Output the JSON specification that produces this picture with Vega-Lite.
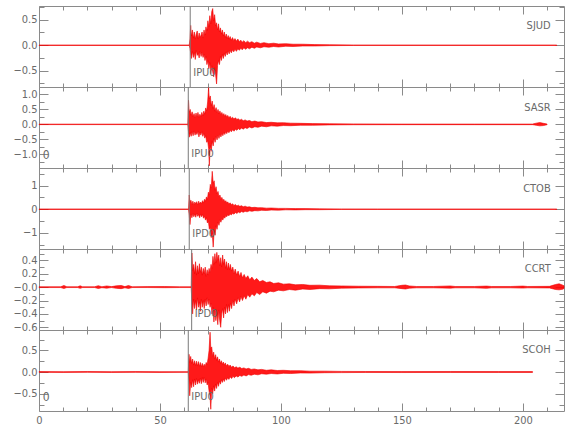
{
  "$schema": "https://vega.github.io/schema/vega-lite/v6.json",
  "padding": {"left": 5, "top": 0, "right": 5, "bottom": 5},
  "spacing": 0,
  "bounds": "flush",
  "config": {
    "view": {"stroke": "#8a8a8a", "strokeWidth": 1},
    "axis": {"domain": false, "grid": false, "labelFont": "DejaVu Sans Condensed, DejaVu Sans, sans-serif", "labelFontSize": 11, "labelColor": "#6a6a6a", "tickColor": "#8a8a8a", "tickWidth": 1, "title": null, "labelOverlap": false, "labelFlush": false, "labelBound": false},
    "text": {"font": "DejaVu Sans Condensed, DejaVu Sans, sans-serif", "color": "#6a6a6a"}
  },
  "datasets": {
    "d1": [
      {"t":0,"h":0.004,"l":-0.004},{"t":62.1,"h":0.004,"l":-0.004},
      {"t":62.4,"h":0.12,"l":-0.06},{"t":62.7,"h":0.39,"l":-0.15},{"t":63.0,"h":0.18,"l":-0.26},{"t":63.4,"h":0.30,"l":-0.12},
      {"t":63.8,"h":0.14,"l":-0.24},{"t":64.2,"h":0.26,"l":-0.14},{"t":64.6,"h":0.12,"l":-0.28},{"t":65.0,"h":0.22,"l":-0.10},
      {"t":65.4,"h":0.28,"l":-0.20},{"t":65.8,"h":0.12,"l":-0.16},{"t":66.2,"h":0.24,"l":-0.25},{"t":66.6,"h":0.15,"l":-0.12},
      {"t":67.0,"h":0.20,"l":-0.22},{"t":67.4,"h":0.26,"l":-0.14},{"t":67.8,"h":0.14,"l":-0.24},{"t":68.2,"h":0.30,"l":-0.18},
      {"t":68.6,"h":0.20,"l":-0.30},{"t":69.0,"h":0.36,"l":-0.22},{"t":69.4,"h":0.28,"l":-0.38},{"t":69.8,"h":0.48,"l":-0.30},
      {"t":70.2,"h":0.36,"l":-0.46},{"t":70.6,"h":0.58,"l":-0.34},{"t":71.0,"h":0.42,"l":-0.56},{"t":71.4,"h":0.66,"l":-0.40},
      {"t":71.8,"h":0.72,"l":-0.52},{"t":72.2,"h":0.48,"l":-0.62},{"t":72.6,"h":0.60,"l":-0.44},{"t":73.0,"h":0.38,"l":-0.58},
      {"t":73.4,"h":0.44,"l":-0.76},{"t":73.8,"h":0.30,"l":-0.40},{"t":74.2,"h":0.42,"l":-0.30},{"t":74.6,"h":0.26,"l":-0.38},
      {"t":75.0,"h":0.34,"l":-0.22},{"t":75.4,"h":0.22,"l":-0.30},{"t":75.8,"h":0.30,"l":-0.18},{"t":76.2,"h":0.18,"l":-0.26},
      {"t":76.6,"h":0.26,"l":-0.16},{"t":77.0,"h":0.15,"l":-0.22},{"t":77.4,"h":0.22,"l":-0.13},{"t":77.8,"h":0.13,"l":-0.19},
      {"t":78.2,"h":0.19,"l":-0.11},{"t":78.6,"h":0.12,"l":-0.17},{"t":79.0,"h":0.17,"l":-0.10},{"t":79.5,"h":0.10,"l":-0.15},
      {"t":80.0,"h":0.15,"l":-0.09},{"t":80.5,"h":0.09,"l":-0.13},{"t":81.0,"h":0.13,"l":-0.08},{"t":81.6,"h":0.08,"l":-0.12},
      {"t":82.2,"h":0.12,"l":-0.07},{"t":82.8,"h":0.07,"l":-0.10},{"t":83.4,"h":0.10,"l":-0.06},{"t":84.0,"h":0.06,"l":-0.09},
      {"t":84.7,"h":0.09,"l":-0.05},{"t":85.4,"h":0.05,"l":-0.08},{"t":86.2,"h":0.08,"l":-0.05},{"t":87.0,"h":0.05,"l":-0.07},
      {"t":88.0,"h":0.07,"l":-0.04},{"t":89.0,"h":0.04,"l":-0.06},{"t":90.0,"h":0.06,"l":-0.035},{"t":91.5,"h":0.035,"l":-0.05},
      {"t":93.0,"h":0.05,"l":-0.03},{"t":95.0,"h":0.03,"l":-0.04},{"t":97.0,"h":0.04,"l":-0.025},{"t":99.0,"h":0.025,"l":-0.035},
      {"t":102,"h":0.03,"l":-0.02},{"t":105,"h":0.02,"l":-0.025},{"t":109,"h":0.02,"l":-0.015},{"t":114,"h":0.012,"l":-0.015},
      {"t":120,"h":0.01,"l":-0.008},{"t":130,"h":0.005,"l":-0.005},{"t":214,"h":0.004,"l":-0.004}
    ],
    "d2": [
      {"t":0,"h":0.008,"l":-0.008},{"t":61.5,"h":0.008,"l":-0.008},
      {"t":61.8,"h":0.81,"l":-0.25},{"t":62.1,"h":0.40,"l":-0.43},{"t":62.5,"h":0.50,"l":-0.28},{"t":62.9,"h":0.30,"l":-0.40},
      {"t":63.3,"h":0.42,"l":-0.24},{"t":63.7,"h":0.26,"l":-0.38},{"t":64.1,"h":0.36,"l":-0.22},{"t":64.5,"h":0.22,"l":-0.36},
      {"t":64.9,"h":0.38,"l":-0.26},{"t":65.3,"h":0.25,"l":-0.34},{"t":65.7,"h":0.40,"l":-0.22},{"t":66.1,"h":0.24,"l":-0.42},
      {"t":66.5,"h":0.34,"l":-0.26},{"t":66.9,"h":0.26,"l":-0.36},{"t":67.3,"h":0.40,"l":-0.24},{"t":67.7,"h":0.28,"l":-0.40},
      {"t":68.1,"h":0.44,"l":-0.30},{"t":68.5,"h":0.34,"l":-0.46},{"t":68.9,"h":0.55,"l":-0.38},{"t":69.3,"h":0.45,"l":-0.60},
      {"t":69.7,"h":0.75,"l":-0.55},{"t":70.1,"h":1.23,"l":-0.80},{"t":70.4,"h":0.85,"l":-1.39},{"t":70.8,"h":0.95,"l":-0.70},
      {"t":71.2,"h":0.62,"l":-0.90},{"t":71.6,"h":0.78,"l":-0.56},{"t":72.0,"h":0.52,"l":-0.72},{"t":72.4,"h":0.66,"l":-0.46},
      {"t":72.8,"h":0.44,"l":-0.60},{"t":73.2,"h":0.56,"l":-0.40},{"t":73.6,"h":0.40,"l":-0.52},{"t":74.0,"h":0.50,"l":-0.36},
      {"t":74.4,"h":0.36,"l":-0.47},{"t":74.8,"h":0.45,"l":-0.32},{"t":75.2,"h":0.32,"l":-0.42},{"t":75.6,"h":0.40,"l":-0.29},
      {"t":76.0,"h":0.29,"l":-0.38},{"t":76.4,"h":0.36,"l":-0.26},{"t":76.8,"h":0.26,"l":-0.34},{"t":77.2,"h":0.33,"l":-0.24},
      {"t":77.6,"h":0.24,"l":-0.31},{"t":78.0,"h":0.30,"l":-0.22},{"t":78.5,"h":0.22,"l":-0.28},{"t":79.0,"h":0.27,"l":-0.20},
      {"t":79.5,"h":0.20,"l":-0.25},{"t":80.0,"h":0.24,"l":-0.18},{"t":80.6,"h":0.18,"l":-0.23},{"t":81.2,"h":0.22,"l":-0.16},
      {"t":81.8,"h":0.16,"l":-0.20},{"t":82.4,"h":0.19,"l":-0.14},{"t":83.0,"h":0.14,"l":-0.18},{"t":83.7,"h":0.17,"l":-0.12},
      {"t":84.4,"h":0.12,"l":-0.16},{"t":85.2,"h":0.15,"l":-0.11},{"t":86.0,"h":0.11,"l":-0.14},{"t":87.0,"h":0.13,"l":-0.09},
      {"t":88.0,"h":0.09,"l":-0.12},{"t":89.2,"h":0.11,"l":-0.08},{"t":90.5,"h":0.08,"l":-0.10},{"t":92.0,"h":0.09,"l":-0.06},
      {"t":94.0,"h":0.06,"l":-0.08},{"t":96.0,"h":0.07,"l":-0.05},{"t":98.5,"h":0.05,"l":-0.06},{"t":101,"h":0.055,"l":-0.04},
      {"t":104,"h":0.04,"l":-0.045},{"t":108,"h":0.035,"l":-0.03},{"t":113,"h":0.025,"l":-0.03},{"t":120,"h":0.02,"l":-0.018},
      {"t":130,"h":0.015,"l":-0.012},{"t":150,"h":0.01,"l":-0.01},{"t":180,"h":0.01,"l":-0.01},{"t":204,"h":0.01,"l":-0.01},
      {"t":205.5,"h":0.04,"l":-0.03},{"t":207,"h":0.06,"l":-0.05},{"t":208.5,"h":0.035,"l":-0.04},{"t":210,"h":0.01,"l":-0.01}
    ],
    "d3": [
      {"t":0,"h":0.01,"l":-0.01},{"t":61.8,"h":0.01,"l":-0.01},
      {"t":62.1,"h":0.60,"l":-0.25},{"t":62.4,"h":0.30,"l":-0.65},{"t":62.8,"h":0.38,"l":-0.20},{"t":63.2,"h":0.20,"l":-0.36},
      {"t":63.6,"h":0.34,"l":-0.18},{"t":64.0,"h":0.18,"l":-0.32},{"t":64.4,"h":0.30,"l":-0.20},{"t":64.8,"h":0.22,"l":-0.34},
      {"t":65.2,"h":0.32,"l":-0.16},{"t":65.6,"h":0.18,"l":-0.30},{"t":66.0,"h":0.34,"l":-0.22},{"t":66.4,"h":0.22,"l":-0.36},
      {"t":66.8,"h":0.30,"l":-0.20},{"t":67.2,"h":0.24,"l":-0.32},{"t":67.6,"h":0.36,"l":-0.22},{"t":68.0,"h":0.26,"l":-0.38},
      {"t":68.4,"h":0.42,"l":-0.30},{"t":68.8,"h":0.34,"l":-0.46},{"t":69.2,"h":0.52,"l":-0.36},{"t":69.6,"h":0.42,"l":-0.58},
      {"t":70.0,"h":0.72,"l":-0.50},{"t":70.4,"h":0.62,"l":-0.85},{"t":70.8,"h":1.05,"l":-0.75},{"t":71.2,"h":0.90,"l":-1.20},
      {"t":71.6,"h":1.60,"l":-1.00},{"t":72.0,"h":1.10,"l":-1.60},{"t":72.4,"h":1.20,"l":-0.90},{"t":72.8,"h":0.80,"l":-1.10},
      {"t":73.2,"h":0.95,"l":-0.70},{"t":73.6,"h":0.65,"l":-0.85},{"t":74.0,"h":0.75,"l":-0.55},{"t":74.4,"h":0.52,"l":-0.68},
      {"t":74.8,"h":0.60,"l":-0.45},{"t":75.2,"h":0.42,"l":-0.55},{"t":75.6,"h":0.50,"l":-0.38},{"t":76.0,"h":0.36,"l":-0.46},
      {"t":76.4,"h":0.42,"l":-0.32},{"t":76.8,"h":0.30,"l":-0.38},{"t":77.2,"h":0.36,"l":-0.27},{"t":77.6,"h":0.26,"l":-0.32},
      {"t":78.0,"h":0.31,"l":-0.23},{"t":78.5,"h":0.22,"l":-0.28},{"t":79.0,"h":0.27,"l":-0.20},{"t":79.5,"h":0.19,"l":-0.24},
      {"t":80.0,"h":0.23,"l":-0.17},{"t":80.6,"h":0.16,"l":-0.21},{"t":81.2,"h":0.20,"l":-0.14},{"t":81.8,"h":0.14,"l":-0.18},
      {"t":82.4,"h":0.17,"l":-0.12},{"t":83.0,"h":0.12,"l":-0.15},{"t":83.7,"h":0.15,"l":-0.10},{"t":84.4,"h":0.10,"l":-0.13},
      {"t":85.2,"h":0.13,"l":-0.09},{"t":86.0,"h":0.09,"l":-0.11},{"t":87.0,"h":0.10,"l":-0.07},{"t":88.0,"h":0.07,"l":-0.09},
      {"t":89.2,"h":0.08,"l":-0.06},{"t":90.5,"h":0.06,"l":-0.07},{"t":92,"h":0.065,"l":-0.045},{"t":94,"h":0.045,"l":-0.055},
      {"t":96,"h":0.05,"l":-0.035},{"t":99,"h":0.035,"l":-0.04},{"t":102,"h":0.035,"l":-0.025},{"t":106,"h":0.025,"l":-0.03},
      {"t":110,"h":0.025,"l":-0.02},{"t":116,"h":0.015,"l":-0.02},{"t":125,"h":0.012,"l":-0.01},{"t":140,"h":0.01,"l":-0.01},
      {"t":214,"h":0.01,"l":-0.01}
    ],
    "d4": [
      {"t":0,"h":0.006,"l":-0.006},{"t":9,"h":0.006,"l":-0.006},{"t":10.3,"h":0.025,"l":-0.02},{"t":11.5,"h":0.006,"l":-0.006},
      {"t":16,"h":0.006,"l":-0.006},{"t":17,"h":0.02,"l":-0.018},{"t":18,"h":0.006,"l":-0.006},{"t":23,"h":0.006,"l":-0.006},
      {"t":24.5,"h":0.022,"l":-0.02},{"t":26,"h":0.006,"l":-0.008},{"t":28,"h":0.018,"l":-0.015},{"t":30,"h":0.008,"l":-0.006},
      {"t":32,"h":0.02,"l":-0.018},{"t":34,"h":0.025,"l":-0.022},{"t":35.5,"h":0.008,"l":-0.01},{"t":37,"h":0.025,"l":-0.02},
      {"t":38.5,"h":0.006,"l":-0.006},{"t":45,"h":0.008,"l":-0.006},{"t":52,"h":0.01,"l":-0.008},{"t":58,"h":0.006,"l":-0.006},
      {"t":62.9,"h":0.006,"l":-0.006},
      {"t":63.2,"h":0.51,"l":-0.22},{"t":63.5,"h":0.25,"l":-0.40},{"t":63.9,"h":0.34,"l":-0.18},{"t":64.3,"h":0.20,"l":-0.32},
      {"t":64.7,"h":0.38,"l":-0.20},{"t":65.1,"h":0.18,"l":-0.34},{"t":65.5,"h":0.32,"l":-0.16},{"t":65.9,"h":0.20,"l":-0.30},
      {"t":66.3,"h":0.35,"l":-0.22},{"t":66.7,"h":0.22,"l":-0.36},{"t":67.1,"h":0.30,"l":-0.18},{"t":67.5,"h":0.18,"l":-0.30},
      {"t":67.9,"h":0.28,"l":-0.20},{"t":68.3,"h":0.20,"l":-0.32},{"t":68.7,"h":0.30,"l":-0.18},{"t":69.1,"h":0.16,"l":-0.28},
      {"t":69.5,"h":0.26,"l":-0.16},{"t":69.9,"h":0.18,"l":-0.26},{"t":70.3,"h":0.28,"l":-0.18},{"t":70.7,"h":0.22,"l":-0.30},
      {"t":71.1,"h":0.34,"l":-0.24},{"t":71.5,"h":0.28,"l":-0.40},{"t":71.9,"h":0.46,"l":-0.30},{"t":72.3,"h":0.34,"l":-0.52},
      {"t":72.7,"h":0.50,"l":-0.34},{"t":73.1,"h":0.36,"l":-0.50},{"t":73.5,"h":0.52,"l":-0.38},{"t":73.9,"h":0.40,"l":-0.56},
      {"t":74.3,"h":0.48,"l":-0.34},{"t":74.7,"h":0.32,"l":-0.50},{"t":75.1,"h":0.44,"l":-0.60},{"t":75.5,"h":0.30,"l":-0.40},
      {"t":75.9,"h":0.48,"l":-0.32},{"t":76.3,"h":0.34,"l":-0.46},{"t":76.7,"h":0.42,"l":-0.30},{"t":77.1,"h":0.28,"l":-0.40},
      {"t":77.5,"h":0.38,"l":-0.26},{"t":77.9,"h":0.26,"l":-0.38},{"t":78.3,"h":0.36,"l":-0.26},{"t":78.7,"h":0.26,"l":-0.36},
      {"t":79.1,"h":0.34,"l":-0.24},{"t":79.6,"h":0.24,"l":-0.32},{"t":80.1,"h":0.30,"l":-0.20},{"t":80.6,"h":0.20,"l":-0.28},
      {"t":81.1,"h":0.27,"l":-0.18},{"t":81.7,"h":0.18,"l":-0.25},{"t":82.3,"h":0.24,"l":-0.16},{"t":82.9,"h":0.16,"l":-0.22},
      {"t":83.5,"h":0.22,"l":-0.14},{"t":84.1,"h":0.14,"l":-0.20},{"t":84.8,"h":0.19,"l":-0.13},{"t":85.5,"h":0.13,"l":-0.18},
      {"t":86.3,"h":0.17,"l":-0.11},{"t":87.1,"h":0.11,"l":-0.15},{"t":88.0,"h":0.15,"l":-0.10},{"t":89.0,"h":0.10,"l":-0.13},
      {"t":90.0,"h":0.13,"l":-0.08},{"t":91.2,"h":0.08,"l":-0.11},{"t":92.5,"h":0.10,"l":-0.07},{"t":94.0,"h":0.07,"l":-0.09},
      {"t":95.5,"h":0.08,"l":-0.06},{"t":97.0,"h":0.055,"l":-0.07},{"t":99.0,"h":0.065,"l":-0.045},{"t":101,"h":0.045,"l":-0.055},
      {"t":103.5,"h":0.05,"l":-0.035},{"t":106,"h":0.035,"l":-0.045},{"t":109,"h":0.04,"l":-0.028},{"t":112,"h":0.028,"l":-0.035},
      {"t":116,"h":0.03,"l":-0.022},{"t":120,"h":0.02,"l":-0.025},{"t":125,"h":0.018,"l":-0.015},{"t":132,"h":0.014,"l":-0.012},
      {"t":140,"h":0.012,"l":-0.01},{"t":147,"h":0.01,"l":-0.01},{"t":150,"h":0.028,"l":-0.022},{"t":151.5,"h":0.032,"l":-0.028},
      {"t":153,"h":0.018,"l":-0.016},{"t":156,"h":0.01,"l":-0.01},{"t":163,"h":0.01,"l":-0.01},{"t":170,"h":0.018,"l":-0.015},
      {"t":172,"h":0.01,"l":-0.01},{"t":180,"h":0.01,"l":-0.01},{"t":185,"h":0.016,"l":-0.018},{"t":187,"h":0.01,"l":-0.01},
      {"t":195,"h":0.01,"l":-0.01},{"t":200,"h":0.016,"l":-0.014},{"t":202,"h":0.01,"l":-0.01},{"t":211,"h":0.012,"l":-0.012},
      {"t":213.5,"h":0.04,"l":-0.035},{"t":215,"h":0.05,"l":-0.04},{"t":216.5,"h":0.03,"l":-0.03},{"t":217,"h":0.02,"l":-0.02}
    ],
    "d5": [
      {"t":0,"h":0.01,"l":-0.008},{"t":10,"h":0.008,"l":-0.01},{"t":20,"h":0.012,"l":-0.008},{"t":30,"h":0.008,"l":-0.01},
      {"t":40,"h":0.01,"l":-0.008},{"t":50,"h":0.008,"l":-0.01},{"t":61.7,"h":0.008,"l":-0.008},
      {"t":62.0,"h":0.41,"l":-0.20},{"t":62.3,"h":0.22,"l":-0.55},{"t":62.7,"h":0.36,"l":-0.24},{"t":63.1,"h":0.20,"l":-0.36},
      {"t":63.5,"h":0.30,"l":-0.18},{"t":63.9,"h":0.16,"l":-0.34},{"t":64.3,"h":0.26,"l":-0.16},{"t":64.7,"h":0.15,"l":-0.30},
      {"t":65.1,"h":0.25,"l":-0.15},{"t":65.5,"h":0.14,"l":-0.28},{"t":65.9,"h":0.24,"l":-0.18},{"t":66.3,"h":0.13,"l":-0.26},
      {"t":66.7,"h":0.22,"l":-0.14},{"t":67.1,"h":0.12,"l":-0.27},{"t":67.5,"h":0.20,"l":-0.13},{"t":67.9,"h":0.12,"l":-0.24},
      {"t":68.3,"h":0.18,"l":-0.12},{"t":68.7,"h":0.13,"l":-0.25},{"t":69.1,"h":0.22,"l":-0.16},{"t":69.5,"h":0.18,"l":-0.30},
      {"t":69.9,"h":0.32,"l":-0.24},{"t":70.3,"h":0.50,"l":-0.45},{"t":70.7,"h":0.92,"l":-0.55},{"t":71.0,"h":0.55,"l":-0.86},
      {"t":71.4,"h":0.58,"l":-0.38},{"t":71.8,"h":0.36,"l":-0.50},{"t":72.2,"h":0.46,"l":-0.32},{"t":72.6,"h":0.30,"l":-0.44},
      {"t":73.0,"h":0.40,"l":-0.28},{"t":73.4,"h":0.27,"l":-0.38},{"t":73.8,"h":0.35,"l":-0.24},{"t":74.2,"h":0.23,"l":-0.33},
      {"t":74.6,"h":0.30,"l":-0.21},{"t":75.0,"h":0.20,"l":-0.28},{"t":75.4,"h":0.26,"l":-0.18},{"t":75.8,"h":0.18,"l":-0.24},
      {"t":76.2,"h":0.23,"l":-0.16},{"t":76.6,"h":0.16,"l":-0.22},{"t":77.0,"h":0.21,"l":-0.14},{"t":77.5,"h":0.14,"l":-0.19},
      {"t":78.0,"h":0.18,"l":-0.13},{"t":78.5,"h":0.13,"l":-0.17},{"t":79.0,"h":0.16,"l":-0.11},{"t":79.6,"h":0.11,"l":-0.15},
      {"t":80.2,"h":0.14,"l":-0.10},{"t":80.8,"h":0.10,"l":-0.13},{"t":81.5,"h":0.12,"l":-0.09},{"t":82.2,"h":0.09,"l":-0.115},
      {"t":83.0,"h":0.11,"l":-0.08},{"t":83.8,"h":0.08,"l":-0.10},{"t":84.7,"h":0.095,"l":-0.07},{"t":85.6,"h":0.07,"l":-0.09},
      {"t":86.6,"h":0.085,"l":-0.06},{"t":87.7,"h":0.06,"l":-0.075},{"t":89,"h":0.07,"l":-0.05},{"t":90.5,"h":0.05,"l":-0.065},
      {"t":92,"h":0.06,"l":-0.04},{"t":94,"h":0.04,"l":-0.05},{"t":96,"h":0.05,"l":-0.035},{"t":98.5,"h":0.035,"l":-0.045},
      {"t":101,"h":0.04,"l":-0.03},{"t":104,"h":0.03,"l":-0.035},{"t":108,"h":0.03,"l":-0.022},{"t":112,"h":0.02,"l":-0.025},
      {"t":118,"h":0.02,"l":-0.016},{"t":125,"h":0.014,"l":-0.014},{"t":135,"h":0.012,"l":-0.01},{"t":150,"h":0.01,"l":-0.012},
      {"t":170,"h":0.012,"l":-0.01},{"t":190,"h":0.01,"l":-0.01},{"t":204,"h":0.01,"l":-0.01}
    ]
  },
  "vconcat": [
    {
      "width": 525, "height": 81,
      "resolve": {"axis": {"x": "independent", "y": "independent"}},
      "layer": [
        {"data": {"name": "d1"}, "mark": {"type": "area", "fill": "#ff0000", "fillOpacity": 0.9, "stroke": "#ee0000", "strokeWidth": 0.6},
         "encoding": {
           "x": {"field": "t", "type": "quantitative", "scale": {"domain": [0, 217], "nice": false}, "axis": {"orient": "bottom", "values": [0,10,20,30,40,50,60,70,80,90,100,110,120,130,140,150,160,170,180,190,200,210], "labels": false, "tickSize": {"condition": {"test": "datum.value % 50 === 0", "value": -8}, "value": -4}, "minExtent": 0, "maxExtent": 0}},
           "y": {"field": "h", "type": "quantitative", "scale": {"domain": [-0.82, 0.77], "nice": false, "zero": false}, "axis": {"orient": "left", "values": [-0.75,-0.5,-0.25,0,0.25,0.5,0.75], "format": ".1f", "labelExpr": "indexof([-0.5,0,0.5], datum.value) >= 0 ? datum.label : ''", "tickSize": {"condition": {"test": "indexof([-0.5,0,0.5], datum.value) >= 0", "value": -9}, "value": -5}, "labelPadding": 11, "minExtent": 33, "maxExtent": 33}},
           "y2": {"field": "l"}
         }},
        {"data": {"name": "d1"}, "mark": {"type": "line", "opacity": 0},
         "encoding": {
           "x": {"field": "t", "type": "quantitative", "axis": {"orient": "top", "values": [0,10,20,30,40,50,60,70,80,90,100,110,120,130,140,150,160,170,180,190,200,210], "labels": false, "tickSize": {"condition": {"test": "datum.value % 50 === 0", "value": -8}, "value": -4}, "minExtent": 0, "maxExtent": 0}},
           "y": {"field": "h", "type": "quantitative", "axis": {"orient": "right", "values": [-0.75,-0.5,-0.25,0,0.25,0.5,0.75], "labels": false, "tickSize": {"condition": {"test": "indexof([-0.5,0,0.5], datum.value) >= 0", "value": -9}, "value": -5}, "minExtent": 0, "maxExtent": 0}}
         }},
        {"data": {"values": [{"t": 62.5, "s": "IPU0"}]}, "mark": {"type": "rule", "color": "#7a7a7a", "strokeWidth": 1},
         "encoding": {"x": {"field": "t", "type": "quantitative", "axis": null}}},
        {"data": {"values": [{"t": 62.5, "s": "IPU0"}]}, "mark": {"type": "text", "align": "left", "baseline": "middle", "dx": 3, "fontSize": 11},
         "encoding": {"x": {"field": "t", "type": "quantitative", "axis": null}, "y": {"datum": -0.55, "axis": null}, "text": {"field": "s"}}},
        {"data": {"values": [{"s": "SJUD"}]}, "mark": {"type": "text", "align": "right", "baseline": "middle", "fontSize": 11},
         "encoding": {"x": {"datum": 211.5, "axis": null}, "y": {"datum": 0.37, "axis": null}, "text": {"field": "s"}}}
      ]
    },
    {
      "width": 525, "height": 81,
      "resolve": {"axis": {"x": "independent", "y": "independent"}},
      "layer": [
        {"data": {"name": "d2"}, "mark": {"type": "area", "fill": "#ff0000", "fillOpacity": 0.9, "stroke": "#ee0000", "strokeWidth": 0.6},
         "encoding": {
           "x": {"field": "t", "type": "quantitative", "scale": {"domain": [0, 217], "nice": false}, "axis": {"orient": "bottom", "values": [0,10,20,30,40,50,60,70,80,90,100,110,120,130,140,150,160,170,180,190,200,210], "labels": false, "tickSize": {"condition": {"test": "datum.value % 50 === 0", "value": -8}, "value": -4}, "minExtent": 0, "maxExtent": 0}},
           "y": {"field": "h", "type": "quantitative", "scale": {"domain": [-1.46, 1.25], "nice": false, "zero": false}, "axis": {"orient": "left", "values": [-1.25,-1,-0.75,-0.5,-0.25,0,0.25,0.5,0.75,1], "format": ".1f", "labelExpr": "indexof([-1,-0.5,0,0.5,1], datum.value) >= 0 ? datum.label : ''", "tickSize": {"condition": {"test": "indexof([-1,-0.5,0,0.5,1], datum.value) >= 0", "value": -9}, "value": -5}, "labelPadding": 11, "minExtent": 33, "maxExtent": 33}},
           "y2": {"field": "l"}
         }},
        {"data": {"name": "d2"}, "mark": {"type": "line", "opacity": 0},
         "encoding": {
           "x": {"field": "t", "type": "quantitative", "axis": {"orient": "top", "values": [0,10,20,30,40,50,60,70,80,90,100,110,120,130,140,150,160,170,180,190,200,210], "labels": false, "tickSize": {"condition": {"test": "datum.value % 50 === 0", "value": -8}, "value": -4}, "minExtent": 0, "maxExtent": 0}},
           "y": {"field": "h", "type": "quantitative", "axis": {"orient": "right", "values": [-1.25,-1,-0.75,-0.5,-0.25,0,0.25,0.5,0.75,1], "labels": false, "tickSize": {"condition": {"test": "indexof([-1,-0.5,0,0.5,1], datum.value) >= 0", "value": -9}, "value": -5}, "minExtent": 0, "maxExtent": 0}}
         }},
        {"data": {"values": [{"t": 61.7, "s": "IPU0"}]}, "mark": {"type": "rule", "color": "#7a7a7a", "strokeWidth": 1},
         "encoding": {"x": {"field": "t", "type": "quantitative", "axis": null}}},
        {"data": {"values": [{"t": 61.7, "s": "IPU0"}]}, "mark": {"type": "text", "align": "left", "baseline": "middle", "dx": 3, "fontSize": 11},
         "encoding": {"x": {"field": "t", "type": "quantitative", "axis": null}, "y": {"datum": -0.98, "axis": null}, "text": {"field": "s"}}},
        {"data": {"values": [{"s": "SASR"}]}, "mark": {"type": "text", "align": "right", "baseline": "middle", "fontSize": 11},
         "encoding": {"x": {"datum": 211.5, "axis": null}, "y": {"datum": 0.54, "axis": null}, "text": {"field": "s"}}},
        {"data": {"values": [{"s": "0"}]}, "mark": {"type": "text", "align": "left", "baseline": "middle", "fontSize": 12},
         "encoding": {"x": {"datum": 1.5, "axis": null}, "y": {"datum": -1.02, "axis": null}, "text": {"field": "s"}}}
      ]
    },
    {
      "width": 525, "height": 81,
      "resolve": {"axis": {"x": "independent", "y": "independent"}},
      "layer": [
        {"data": {"name": "d3"}, "mark": {"type": "area", "fill": "#ff0000", "fillOpacity": 0.9, "stroke": "#ee0000", "strokeWidth": 0.6},
         "encoding": {
           "x": {"field": "t", "type": "quantitative", "scale": {"domain": [0, 217], "nice": false}, "axis": {"orient": "bottom", "values": [0,10,20,30,40,50,60,70,80,90,100,110,120,130,140,150,160,170,180,190,200,210], "labels": false, "tickSize": {"condition": {"test": "datum.value % 50 === 0", "value": -8}, "value": -4}, "minExtent": 0, "maxExtent": 0}},
           "y": {"field": "h", "type": "quantitative", "scale": {"domain": [-1.68, 1.74], "nice": false, "zero": false}, "axis": {"orient": "left", "values": [-1.5,-1,-0.5,0,0.5,1,1.5], "labelExpr": "indexof([-1,0,1], datum.value) >= 0 ? format(datum.value, '.0f') : ''", "tickSize": {"condition": {"test": "indexof([-1,0,1], datum.value) >= 0", "value": -9}, "value": -5}, "labelPadding": 11, "minExtent": 33, "maxExtent": 33}},
           "y2": {"field": "l"}
         }},
        {"data": {"name": "d3"}, "mark": {"type": "line", "opacity": 0},
         "encoding": {
           "x": {"field": "t", "type": "quantitative", "axis": {"orient": "top", "values": [0,10,20,30,40,50,60,70,80,90,100,110,120,130,140,150,160,170,180,190,200,210], "labels": false, "tickSize": {"condition": {"test": "datum.value % 50 === 0", "value": -8}, "value": -4}, "minExtent": 0, "maxExtent": 0}},
           "y": {"field": "h", "type": "quantitative", "axis": {"orient": "right", "values": [-1.5,-1,-0.5,0,0.5,1,1.5], "labels": false, "tickSize": {"condition": {"test": "indexof([-1,0,1], datum.value) >= 0", "value": -9}, "value": -5}, "minExtent": 0, "maxExtent": 0}}
         }},
        {"data": {"values": [{"t": 62.1, "s": "IPD0"}]}, "mark": {"type": "rule", "color": "#7a7a7a", "strokeWidth": 1},
         "encoding": {"x": {"field": "t", "type": "quantitative", "axis": null}}},
        {"data": {"values": [{"t": 62.1, "s": "IPD0"}]}, "mark": {"type": "text", "align": "left", "baseline": "middle", "dx": 3, "fontSize": 11},
         "encoding": {"x": {"field": "t", "type": "quantitative", "axis": null}, "y": {"datum": -1.04, "axis": null}, "text": {"field": "s"}}},
        {"data": {"values": [{"s": "CTOB"}]}, "mark": {"type": "text", "align": "right", "baseline": "middle", "fontSize": 11},
         "encoding": {"x": {"datum": 211.5, "axis": null}, "y": {"datum": 0.86, "axis": null}, "text": {"field": "s"}}}
      ]
    },
    {
      "width": 525, "height": 81,
      "resolve": {"axis": {"x": "independent", "y": "independent"}},
      "layer": [
        {"data": {"name": "d4"}, "mark": {"type": "area", "fill": "#ff0000", "fillOpacity": 0.9, "stroke": "#ee0000", "strokeWidth": 0.6},
         "encoding": {
           "x": {"field": "t", "type": "quantitative", "scale": {"domain": [0, 217], "nice": false}, "axis": {"orient": "bottom", "values": [0,10,20,30,40,50,60,70,80,90,100,110,120,130,140,150,160,170,180,190,200,210], "labels": false, "tickSize": {"condition": {"test": "datum.value % 50 === 0", "value": -8}, "value": -4}, "minExtent": 0, "maxExtent": 0}},
           "y": {"field": "h", "type": "quantitative", "scale": {"domain": [-0.64, 0.57], "nice": false, "zero": false}, "axis": {"orient": "left", "values": [-0.6,-0.5,-0.4,-0.3,-0.2,-0.1,0,0.1,0.2,0.3,0.4,0.5], "format": ".1f", "labelExpr": "datum.value === 0 ? '\u22120.0' : (indexof([-0.6,-0.4,-0.2,0.2,0.4], datum.value) >= 0 ? datum.label : '')", "tickSize": {"condition": {"test": "indexof([-0.6,-0.4,-0.2,0,0.2,0.4], datum.value) >= 0", "value": -9}, "value": -5}, "labelPadding": 11, "minExtent": 33, "maxExtent": 33}},
           "y2": {"field": "l"}
         }},
        {"data": {"name": "d4"}, "mark": {"type": "line", "opacity": 0},
         "encoding": {
           "x": {"field": "t", "type": "quantitative", "axis": {"orient": "top", "values": [0,10,20,30,40,50,60,70,80,90,100,110,120,130,140,150,160,170,180,190,200,210], "labels": false, "tickSize": {"condition": {"test": "datum.value % 50 === 0", "value": -8}, "value": -4}, "minExtent": 0, "maxExtent": 0}},
           "y": {"field": "h", "type": "quantitative", "axis": {"orient": "right", "values": [-0.6,-0.5,-0.4,-0.3,-0.2,-0.1,0,0.1,0.2,0.3,0.4,0.5], "labels": false, "tickSize": {"condition": {"test": "indexof([-0.6,-0.4,-0.2,0,0.2,0.4], datum.value) >= 0", "value": -9}, "value": -5}, "minExtent": 0, "maxExtent": 0}}
         }},
        {"data": {"values": [{"t": 63.1, "s": "IPD0"}]}, "mark": {"type": "rule", "color": "#7a7a7a", "strokeWidth": 1},
         "encoding": {"x": {"field": "t", "type": "quantitative", "axis": null}}},
        {"data": {"values": [{"t": 63.1, "s": "IPD0"}]}, "mark": {"type": "text", "align": "left", "baseline": "middle", "dx": 3, "fontSize": 11},
         "encoding": {"x": {"field": "t", "type": "quantitative", "axis": null}, "y": {"datum": -0.40, "axis": null}, "text": {"field": "s"}}},
        {"data": {"values": [{"s": "CCRT"}]}, "mark": {"type": "text", "align": "right", "baseline": "middle", "fontSize": 11},
         "encoding": {"x": {"datum": 211.5, "axis": null}, "y": {"datum": 0.27, "axis": null}, "text": {"field": "s"}}}
      ]
    },
    {
      "width": 525, "height": 81,
      "resolve": {"axis": {"x": "independent", "y": "independent"}},
      "layer": [
        {"data": {"name": "d5"}, "mark": {"type": "area", "fill": "#ff0000", "fillOpacity": 0.9, "stroke": "#ee0000", "strokeWidth": 0.6},
         "encoding": {
           "x": {"field": "t", "type": "quantitative", "scale": {"domain": [0, 217], "nice": false}, "axis": {"orient": "bottom", "values": [0,10,20,30,40,50,60,70,80,90,100,110,120,130,140,150,160,170,180,190,200,210], "labelExpr": "datum.value % 50 === 0 ? format(datum.value, 'd') : ''", "tickSize": {"condition": {"test": "datum.value % 50 === 0", "value": -8}, "value": -4}, "labelPadding": 11}},
           "y": {"field": "h", "type": "quantitative", "scale": {"domain": [-0.9, 0.97], "nice": false, "zero": false}, "axis": {"orient": "left", "values": [-0.75,-0.5,-0.25,0,0.25,0.5,0.75], "format": ".1f", "labelExpr": "indexof([-0.5,0,0.5], datum.value) >= 0 ? datum.label : ''", "tickSize": {"condition": {"test": "indexof([-0.5,0,0.5], datum.value) >= 0", "value": -9}, "value": -5}, "labelPadding": 11, "minExtent": 33, "maxExtent": 33}},
           "y2": {"field": "l"}
         }},
        {"data": {"name": "d5"}, "mark": {"type": "line", "opacity": 0},
         "encoding": {
           "x": {"field": "t", "type": "quantitative", "axis": {"orient": "top", "values": [0,10,20,30,40,50,60,70,80,90,100,110,120,130,140,150,160,170,180,190,200,210], "labels": false, "tickSize": {"condition": {"test": "datum.value % 50 === 0", "value": -8}, "value": -4}, "minExtent": 0, "maxExtent": 0}},
           "y": {"field": "h", "type": "quantitative", "axis": {"orient": "right", "values": [-0.75,-0.5,-0.25,0,0.25,0.5,0.75], "labels": false, "tickSize": {"condition": {"test": "indexof([-0.5,0,0.5], datum.value) >= 0", "value": -9}, "value": -5}, "minExtent": 0, "maxExtent": 0}}
         }},
        {"data": {"values": [{"t": 61.7, "s": "IPU0"}]}, "mark": {"type": "rule", "color": "#7a7a7a", "strokeWidth": 1},
         "encoding": {"x": {"field": "t", "type": "quantitative", "axis": null}}},
        {"data": {"values": [{"t": 61.7, "s": "IPU0"}]}, "mark": {"type": "text", "align": "left", "baseline": "middle", "dx": 3, "fontSize": 11},
         "encoding": {"x": {"field": "t", "type": "quantitative", "axis": null}, "y": {"datum": -0.58, "axis": null}, "text": {"field": "s"}}},
        {"data": {"values": [{"s": "SCOH"}]}, "mark": {"type": "text", "align": "right", "baseline": "middle", "fontSize": 11},
         "encoding": {"x": {"datum": 211.5, "axis": null}, "y": {"datum": 0.5, "axis": null}, "text": {"field": "s"}}},
        {"data": {"values": [{"s": "0"}]}, "mark": {"type": "text", "align": "left", "baseline": "middle", "fontSize": 12},
         "encoding": {"x": {"datum": 1.5, "axis": null}, "y": {"datum": -0.58, "axis": null}, "text": {"field": "s"}}}
      ]
    }
  ]
}
